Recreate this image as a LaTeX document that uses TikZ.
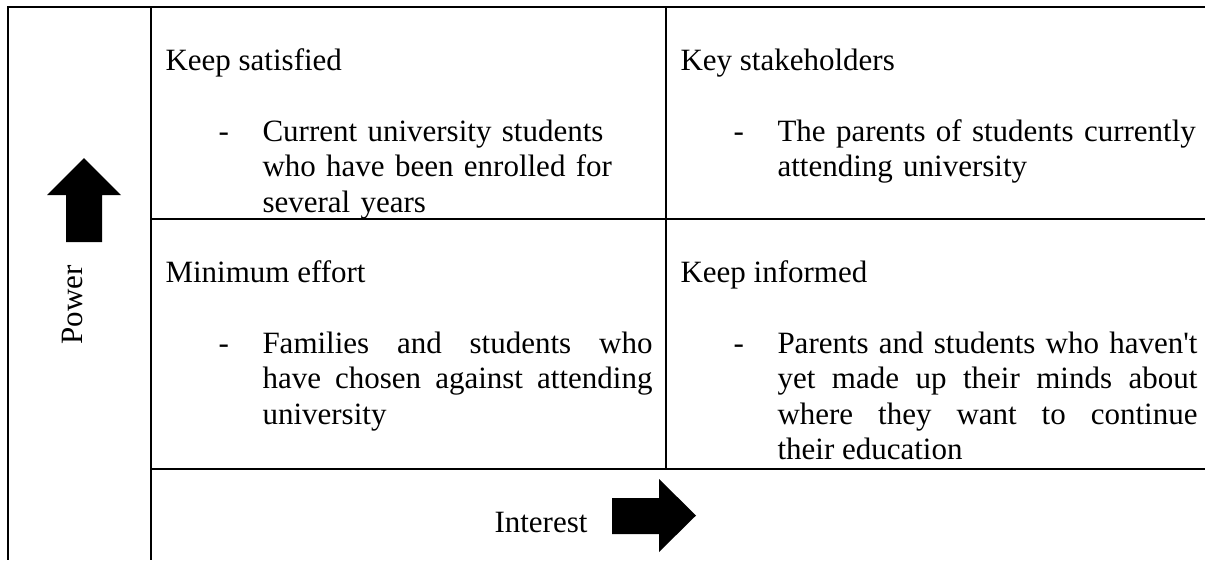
\documentclass[tikz,border=0pt]{standalone}
\usepackage{fontspec}
\setmainfont{Liberation Serif}[Ligatures=TeXOff]
\begin{document}
\begin{tikzpicture}
	[
	x = 0.4pt, y = -0.4pt,
	every node/.style={font = \fontsize{12.4}{14.24}\selectfont, inner sep = 0pt},
	rule/.style={draw = black, line width = 0.8pt},
	head/.style={anchor = base west},
	item/.style={anchor = base west, text width = 172pt, align = left},
	itemj/.style={anchor = base west, align = justify},
	block/.style={fill = black}
	]
	\useasboundingbox (0,0) rectangle (1205,560);
	
	% table rules
	\draw[rule] (1205,7) -- (8,7) -- (8,560);
	\draw[rule] (151,7) -- (151,560);
	\draw[rule] (666,7) -- (666,469);
	\draw[rule] (151,219) -- (1205,219);
	\draw[rule] (151,469) -- (1205,469);
	
	% quadrant titles
	\node[head](ks) at (165,70){Keep satisfied};
	\node[head](kst) at (680,70){Key stakeholders};
	\node[head](me) at (165,282){Minimum effort};
	\node[head](ki) at (680,282){Keep informed};
	
	% dashes
	\node[head](d1) at (218,141){-};
	\node[head](d2) at (733,141){-};
	\node[head](d3) at (218,353){-};
	\node[head](d4) at (733,353){-};
	
	% stakeholder groups
	\node[item](g1) at (262,141){Current university students\\ who have been enrolled for\\ several years};
	\node[item](g2) at (777,141){The parents of students currently\\ attending university};
	\node[itemj, text width = 156pt](g3) at (262,353){Families and students who\linebreak
		have chosen against attending\linebreak university};
	\node[itemj, text width = 168pt](g4) at (777,353){Parents and students who haven't\linebreak
		yet made up their minds about\linebreak where they want to continue\linebreak
		their education};
	
	% axes
	\fill[block] (84,158) -- (121,195) -- (102,195) -- (102,242) -- (66,242) -- (66,195) -- (47,195) -- cycle;
	\node[rotate=90](power) at (72,305){Power};
	
	\node[head](interest) at (494,532){Interest};
	\fill[block] (612,498) -- (659,498) -- (659,479) -- (696,515.5) -- (659,552) -- (659,534) -- (612,534) -- cycle;
\end{tikzpicture}
\end{document}
